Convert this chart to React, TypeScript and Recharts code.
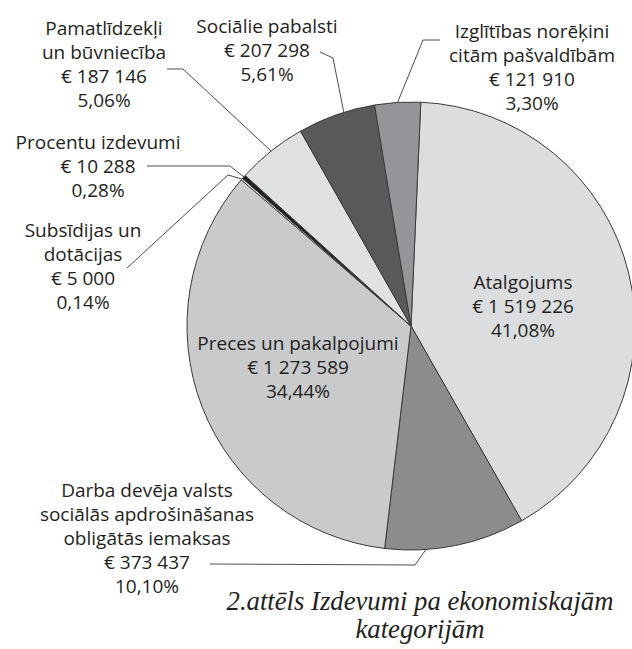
import React from 'react';
import { PieChart, Pie, Cell } from 'recharts';

// clockwise from the top
const categories = [
  'Atalgojums',
  'Darba devēja valsts\nsociālās apdrošināšanas\nobligātās iemaksas',
  'Preces un pakalpojumi',
  'Subsīdijas un\ndotācijas',
  'Procentu izdevumi',
  'Pamatlīdzekļi\nun būvniecība',
  'Sociālie pabalsti',
  'Izglītības norēķini\ncitām pašvaldībām',
];
const amounts = [1519226, 373437, 1273589, 5000, 10288, 187146, 207298, 121910];
const colors = ['#dcdddf', '#8b8c8e', '#c9cacc', '#f4f4f4', '#231f20', '#e0e1e3', '#58595b', '#939598'];
const captionLines = ['2.attēls Izdevumi pa ekonomiskajām', 'kategorijām'];

// label placement: text centre x, first baseline, leader line points (end, elbow), tip angle shift
const labelLayout = [
  { x: 523, y: 289, line: null, shift: 0 },
  { x: 147, y: 497, line: [[210, 564], [415, 565]], shift: -7.6 },
  { x: 298, y: 350, line: null, shift: 0 },
  { x: 83, y: 237, line: [[127, 268], [228, 175]], shift: 0 },
  { x: 98, y: 149, line: [[147, 166], [230, 166]], shift: 0 },
  { x: 104, y: 35, line: [[167, 69], [183, 69]], shift: 0 },
  { x: 267, y: 33, line: [[320, 52], [333, 58]], shift: -2 },
  { x: 532, y: 38, line: [[440, 40], [423, 40]], shift: 0 },
];

const data = categories.map((name, i) => ({ name, value: amounts[i] }));
const RADIAN = Math.PI / 180;
const LINE_H = 24;

const fmtEuro = (v: number) => '€ ' + String(v).replace(/\B(?=(\d{3})+(?!\d))/g, ' ');
const fmtPct = (p: number) => (p * 100).toFixed(2).replace('.', ',') + '%';

const renderLabel = (props: any) => {
  const { cx, cy, midAngle, outerRadius, percent, index } = props;
  const lay = labelLayout[index];
  const lines = [...categories[index].split('\n'), fmtEuro(amounts[index]), fmtPct(percent)];
  let leader = null;
  if (lay.line) {
    const a = (midAngle + lay.shift) * RADIAN;
    const tx = cx + outerRadius * Math.cos(a);
    const ty = cy - outerRadius * Math.sin(a);
    const pts = [...lay.line.map((p) => p.join(',')), `${tx},${ty}`].join(' ');
    leader = <polyline points={pts} fill="none" stroke="#4d4d4f" strokeWidth={1} />;
  }
  return (
    <g key={`lbl-${index}`}>
      {leader}
      <text
        x={lay.x}
        y={lay.y}
        textAnchor="middle"
        fill="#231f20"
        fontFamily="'Open Sans', 'Noto Sans', sans-serif"
        fontSize={19}
      >
        {lines.map((t, j) => (
          <tspan key={j} x={lay.x} y={lay.y + j * LINE_H}>
            {t}
          </tspan>
        ))}
      </text>
    </g>
  );
};

export default function App() {
  return (
    <div style={{ width: 632, height: 649, background: '#fff' }}>
      <style>{'body{margin:0}'}</style>
      <PieChart width={632} height={649} margin={{ top: 0, right: 0, bottom: 0, left: 0 }}>
        <Pie
          data={data}
          dataKey="value"
          nameKey="name"
          cx={411}
          cy={326}
          outerRadius={224}
          startAngle={87.5}
          endAngle={-272.5}
          stroke="#3a3a3a"
          strokeWidth={1}
          label={renderLabel}
          labelLine={false}
          isAnimationActive={false}
        >
          {data.map((d, i) => (
            <Cell key={d.name} fill={colors[i]} />
          ))}
        </Pie>
        <text
          x={420}
          y={610}
          textAnchor="middle"
          fill="#231f20"
          fontFamily="'Liberation Serif', 'DejaVu Serif', serif"
          fontStyle="italic"
          fontSize={26.7}
        >
          {captionLines.map((t, j) => (
            <tspan key={j} x={420} y={610 + j * 28}>
              {t}
            </tspan>
          ))}
        </text>
      </PieChart>
    </div>
  );
}
